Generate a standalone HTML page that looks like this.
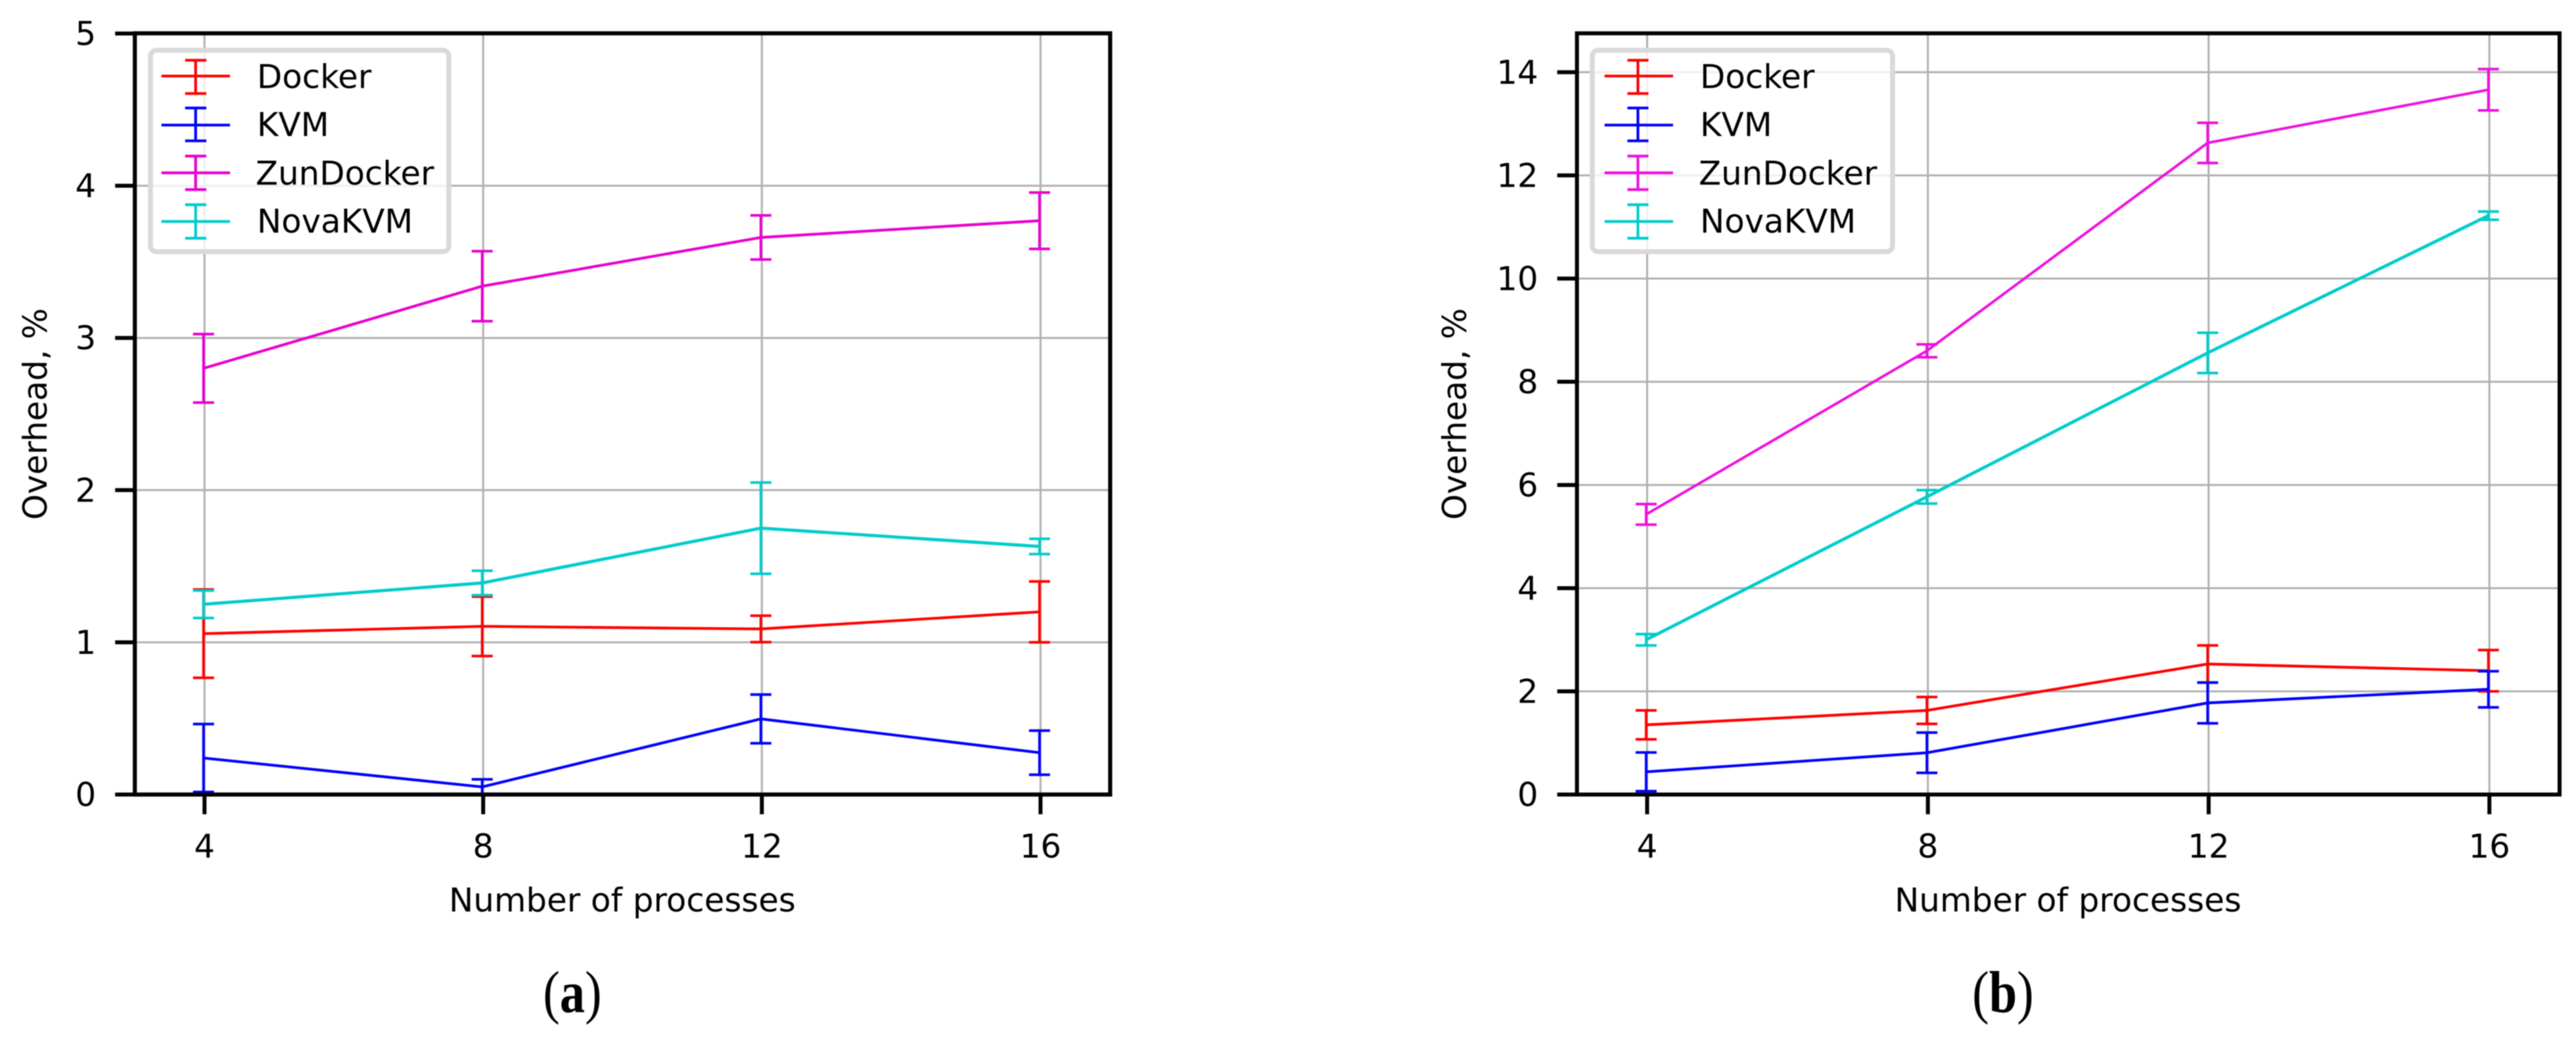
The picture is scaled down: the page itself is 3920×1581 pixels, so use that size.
<!DOCTYPE html>
<html lang="en">
<head>
<meta charset="utf-8">
<title>Overhead vs number of processes</title>
<style>
  html, body { margin: 0; padding: 0; background: #fff; }
  svg { display: block; filter: blur(0.7px); }
  text { font-family: "DejaVu Sans", "Liberation Sans", sans-serif; fill: #000; font-size: 49.8px; }
  .cap-text { font-family: "Liberation Serif", serif; font-size: 90px; }
</style>
</head>
<body>
<svg xmlns="http://www.w3.org/2000/svg" width="3920" height="1581" viewBox="0 0 3920 1581">
  <rect x="0" y="0" width="3920" height="1581" fill="#fff"/>

  <g id="chart-a">
    <g id="a-grid"></g>
    <g id="a-series"></g>
    <g>
      <rect x="229" y="76.5" width="454" height="306.5" rx="9" fill="#fff" fill-opacity="0.8" stroke="#d9d9d9" stroke-width="7.5"/>
      <g stroke="#ff0000" stroke-width="4.2">
        <path d="M245.7 115.7H350M297.7 91.7V142.3M281.7 91.7H314M281.7 142.3H314" fill="none"/>
        <text x="391" y="134" stroke="none">Docker</text>
      </g>
      <g stroke="#0000ff" stroke-width="4.2">
        <path d="M245.7 190.3H350M297.7 164.3V214.3M281.7 164.3H314M281.7 214.3H314" fill="none"/>
        <text x="391" y="207" stroke="none">KVM</text>
      </g>
      <g stroke="#e800cf" stroke-width="4.2">
        <path d="M245.7 263H350M297.7 237.5V288.5M281.7 237.5H314M281.7 288.5H314" fill="none"/>
        <text x="389" y="281" stroke="none">ZunDocker</text>
      </g>
      <g stroke="#00cccc" stroke-width="4.2">
        <path d="M245.7 337H350M297.7 311.5V362.5M281.7 311.5H314M281.7 362.5H314" fill="none"/>
        <text x="391" y="354" stroke="none">NovaKVM</text>
      </g>
    </g>
    <g id="a-ticks"></g>
    <rect x="205.2" y="50.7" width="1484.2" height="1158.3" fill="none" stroke="#000" stroke-width="6.2"/>
    <text x="71" y="630" text-anchor="middle" transform="rotate(-90 71 630)">Overhead, %</text>
    <text x="947" y="1387" text-anchor="middle">Number of processes</text>
    <text class="cap-text" text-anchor="middle" transform="translate(871 1540) scale(0.85 1)">(<tspan font-weight="bold">a</tspan>)</text>
  </g>

  <g id="chart-b">
    <g id="b-grid"></g>
    <g id="b-series"></g>
    <g>
      <rect x="2423" y="76.5" width="457" height="306.5" rx="9" fill="#fff" fill-opacity="0.8" stroke="#d9d9d9" stroke-width="7.5"/>
      <g stroke="#ff0000" stroke-width="4.2">
        <path d="M2441.7 115.7H2546M2492.5 91.7V142.3M2476.5 91.7H2508.5M2476.5 142.3H2508.5" fill="none"/>
        <text x="2587" y="134" stroke="none">Docker</text>
      </g>
      <g stroke="#0000ff" stroke-width="4.2">
        <path d="M2441.7 190.3H2546M2492.5 164.3V214.3M2476.5 164.3H2508.5M2476.5 214.3H2508.5" fill="none"/>
        <text x="2587" y="207" stroke="none">KVM</text>
      </g>
      <g stroke="#ee10dd" stroke-width="4.2">
        <path d="M2441.7 263H2546M2492.5 237.5V288.5M2476.5 237.5H2508.5M2476.5 288.5H2508.5" fill="none"/>
        <text x="2585" y="281" stroke="none">ZunDocker</text>
      </g>
      <g stroke="#00cccc" stroke-width="4.2">
        <path d="M2441.7 337H2546M2492.5 311.5V362.5M2476.5 311.5H2508.5M2476.5 362.5H2508.5" fill="none"/>
        <text x="2587" y="354" stroke="none">NovaKVM</text>
      </g>
    </g>
    <g id="b-ticks"></g>
    <rect x="2399.7" y="50.7" width="1495.3" height="1158.3" fill="none" stroke="#000" stroke-width="6"/>
    <text x="2231" y="630" text-anchor="middle" transform="rotate(-90 2231 630)">Overhead, %</text>
    <text x="3147" y="1387" text-anchor="middle">Number of processes</text>
    <text class="cap-text" text-anchor="middle" transform="translate(3048 1540) scale(0.85 1)">(<tspan font-weight="bold">b</tspan>)</text>
  </g>
</svg>

<script>
// Shared category axis
const categories = [4, 8, 12, 16];

// Chart (a) values
const yTicksA = [0, 1, 2, 3, 4, 5];
const dockerA = [1.057, 1.105, 1.088, 1.20];
const dockerErrA = [0.29, 0.195, 0.087, 0.20];
const kvmA = [0.24, 0.05, 0.497, 0.275];
const kvmErrA = [0.223, 0.05, 0.16, 0.145];
const zunA = [2.80, 3.34, 3.66, 3.77];
const zunErrA = [0.225, 0.23, 0.145, 0.185];
const novaA = [1.25, 1.39, 1.75, 1.63];
const novaErrA = [0.09, 0.08, 0.30, 0.05];

// Chart (b) values
const yTicksB = [0, 2, 4, 6, 8, 10, 12, 14];
const dockerB = [1.35, 1.63, 2.53, 2.40];
const dockerErrB = [0.28, 0.26, 0.36, 0.40];
const kvmB = [0.44, 0.81, 1.775, 2.04];
const kvmErrB = [0.375, 0.39, 0.395, 0.35];
const zunB = [5.43, 8.60, 12.63, 13.66];
const zunErrB = [0.20, 0.125, 0.39, 0.40];
const novaB = [3.00, 5.77, 8.56, 11.22];
const novaErrB = [0.11, 0.13, 0.39, 0.08];

const SVG_NS = 'http://www.w3.org/2000/svg';

function make(tag, attrs, parent) {
  const el = document.createElementNS(SVG_NS, tag);
  for (const k in attrs) el.setAttribute(k, attrs[k]);
  parent.appendChild(el);
  return el;
}

function drawChart(id, cfg) {
  const xScale = v => cfg.left + (v - 3) * (cfg.right - cfg.left) / 14;
  const yScale = v => cfg.bottom - v * (cfg.bottom - cfg.top) / cfg.yMax;
  const gridG = document.getElementById(id + '-grid');
  const tickG = document.getElementById(id + '-ticks');
  const seriesG = document.getElementById(id + '-series');

  categories.forEach(c => {
    const x = xScale(c);
    const g = make('line', { x1: x, x2: x, y1: cfg.top, y2: cfg.bottom, stroke: '#b0b0b0', 'stroke-width': 3 }, gridG);
    
    
    const t = make('line', { x1: x, x2: x, y1: cfg.bottom, y2: cfg.bottom + 30, stroke: '#000', 'stroke-width': 6 }, tickG);
    
    
    const l = make('text', { x: x, y: 1305, 'text-anchor': 'middle' }, tickG);
    l.textContent = c;
    
    
  });

  cfg.yTicks.forEach(v => {
    const y = yScale(v);
    const g = make('line', { x1: cfg.left, x2: cfg.right, y1: y, y2: y, stroke: '#b0b0b0', 'stroke-width': 3 }, gridG);
    
    
    const t = make('line', { x1: cfg.left - 30, x2: cfg.left, y1: y, y2: y, stroke: '#000', 'stroke-width': 6 }, tickG);
    
    
    const l = make('text', { x: cfg.left - 59, y: y + 17.5, 'text-anchor': 'end' }, tickG);
    l.textContent = v;
    
    
  });

  cfg.series.forEach(s => {
    const group = make('g', { fill: 'none', stroke: s.color, 'stroke-width': s.width }, seriesG);
    
    
    const pts = categories.map((c, i) => (xScale(c) - 1.5) + ',' + yScale(s.values[i])).join(' ');
    const line = make('polyline', { points: pts }, group);
    
    
    categories.forEach((c, i) => {
      const x = xScale(c) - 1.5;
      const hi = yScale(s.values[i] + s.errors[i]);
      const lo = yScale(s.values[i] - s.errors[i]);
      const bar = make('path', {
        d: 'M' + x + ' ' + hi + 'V' + lo + 'M' + (x - 16) + ' ' + hi + 'H' + (x + 16) + 'M' + (x - 16) + ' ' + lo + 'H' + (x + 16),
        'stroke-width': 4
      }, group);
      
      
    });
  });
}

drawChart('a', {
  left: 205.2, right: 1689.4, top: 51, bottom: 1209, yMax: 5, yTicks: yTicksA,
  series: [
    { name: 'docker', color: '#ff0000', width: 4.2, values: dockerA, errors: dockerErrA },
    { name: 'kvm', color: '#0000ff', width: 4.2, values: kvmA, errors: kvmErrA },
    { name: 'zundocker', color: '#e800cf', width: 4.2, values: zunA, errors: zunErrA },
    { name: 'novakvm', color: '#00cccc', width: 4.8, values: novaA, errors: novaErrA }
  ]
});

drawChart('b', {
  left: 2399.7, right: 3895, top: 51, bottom: 1209, yMax: 14.75, yTicks: yTicksB,
  series: [
    { name: 'docker', color: '#ff0000', width: 4.2, values: dockerB, errors: dockerErrB },
    { name: 'kvm', color: '#0000ff', width: 4.2, values: kvmB, errors: kvmErrB },
    { name: 'zundocker', color: '#ee10dd', width: 4, values: zunB, errors: zunErrB },
    { name: 'novakvm', color: '#00cccc', width: 4.8, values: novaB, errors: novaErrB }
  ]
});
</script>
</body>
</html>
